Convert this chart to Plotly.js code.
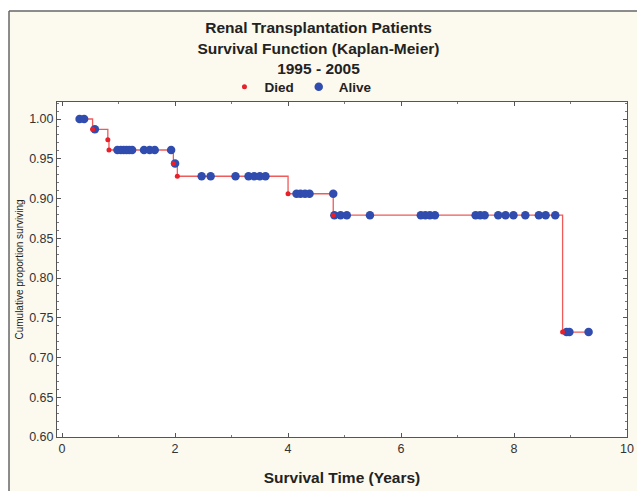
<!DOCTYPE html>
<html>
<head>
<meta charset="utf-8">
<script src="https://cdn.plot.ly/plotly-3.0.1.min.js"></script>
<style>html,body{margin:0;padding:0;background:#fff;}#chart{width:637px;height:491px;}</style>
</head>
<body>
<div id="chart"></div>
<script>
// Kaplan-Meier step curve (death times and survival levels)
var curveTimes = [0.31, 0.54, 0.81, 0.83, 1.97, 2.04, 4.00, 4.80, 8.86, 9.32];
var curveSurv  = [1.000, 0.987, 0.974, 0.961, 0.944, 0.928, 0.906, 0.879, 0.732, 0.732];

// Died (complete) observations
var diedTimes = [0.54, 0.81, 0.83, 1.97, 2.04, 4.00, 4.80, 8.86];
var diedSurv  = [0.987, 0.974, 0.961, 0.944, 0.928, 0.906, 0.879, 0.732];

// Alive (censored) observations
var aliveTimes = [0.31, 0.39, 0.58,
  0.98, 1.04, 1.09, 1.14, 1.19, 1.24, 1.45, 1.55, 1.64, 1.93,
  2.00,
  2.47, 2.63, 3.07, 3.30, 3.40, 3.50, 3.60,
  4.15, 4.22, 4.30, 4.38, 4.80,
  4.82, 4.93, 5.04, 5.45, 6.35, 6.43, 6.51, 6.60, 7.32, 7.40, 7.48, 7.72, 7.85, 7.99, 8.20, 8.44, 8.56, 8.73,
  8.93, 8.98, 9.32];
var aliveSurv = [1.000, 1.000, 0.987,
  0.961, 0.961, 0.961, 0.961, 0.961, 0.961, 0.961, 0.961, 0.961, 0.961,
  0.944,
  0.928, 0.928, 0.928, 0.928, 0.928, 0.928, 0.928,
  0.906, 0.906, 0.906, 0.906, 0.906,
  0.879, 0.879, 0.879, 0.879, 0.879, 0.879, 0.879, 0.879, 0.879, 0.879, 0.879, 0.879, 0.879, 0.879, 0.879, 0.879, 0.879, 0.879,
  0.732, 0.732, 0.732];

var yTickVals = [0.60, 0.65, 0.70, 0.75, 0.80, 0.85, 0.90, 0.95, 1.00];
var xTickVals = [0, 2, 4, 6, 8, 10];

var FONT = '"Liberation Sans", Arial, sans-serif';

var traces = [
  {x: curveTimes, y: curveSurv, type: 'scatter', mode: 'lines', line: {shape: 'hv', color: '#ef5a5a', width: 1.3}, showlegend: false, hoverinfo: 'skip'},
  {x: aliveTimes, y: aliveSurv, type: 'scatter', mode: 'markers', name: 'Alive', legendrank: 2, marker: {color: '#2f4cae', size: 8.5}},
  {x: diedTimes, y: diedSurv, type: 'scatter', mode: 'markers', name: 'Died', legendrank: 1, marker: {color: '#e8202a', size: 5}}
];

var layout = {
  width: 637, height: 491,
  margin: {l: 57, r: 10, t: 102, b: 54},
  paper_bgcolor: '#fcf9ee',
  plot_bgcolor: '#ffffff',
  font: {family: FONT, color: '#222', size: 12},
  title: {
    text: '<b>Renal Transplantation Patients<br>Survival Function (Kaplan-Meier)<br>1995 - 2005</b>',
    font: {family: FONT, size: 15.5, color: '#222'},
    x: 0.5, xref: 'container', xanchor: 'center',
    y: 0.932, yref: 'container', yanchor: 'top'
  },
  showlegend: true,
  legend: {
    orientation: 'h', x: 0.428, xanchor: 'center', y: 1.045, yanchor: 'middle',
    bgcolor: 'rgba(0,0,0,0)', font: {family: FONT, size: 13.5, color: '#222', weight: 'bold'},
    itemwidth: 30, traceorder: 'normal'
  },
  xaxis: {
    range: [-0.09, 10], tickvals: xTickVals, ticktext: xTickVals.map(String),
    ticks: 'inside', ticklen: 4, tickcolor: '#555', mirror: 'ticks',
    showline: true, linecolor: '#555', linewidth: 1, showgrid: false, zeroline: false,
    minor: {dtick: 1, tick0: 0, ticks: 'inside', ticklen: 2, tickcolor: '#777', showgrid: false},
    tickfont: {size: 12.5, color: '#333'},
    title: {text: '<b>Survival Time (Years)</b>', font: {family: FONT, size: 15.5, color: '#222'}, standoff: 17}
  },
  yaxis: {
    range: [0.6, 1.0214], tickvals: yTickVals, ticktext: yTickVals.map(function(v){return v.toFixed(2);}),
    ticks: 'inside', ticklen: 4, tickcolor: '#555', mirror: 'ticks',
    showline: true, linecolor: '#555', linewidth: 1, showgrid: false, zeroline: false,
    minor: {dtick: 0.01, tick0: 0, ticks: 'inside', ticklen: 2, tickcolor: '#777', showgrid: false},
    tickfont: {size: 12.5, color: '#333'},
    title: {text: 'Cumulative proportion surviving', font: {family: FONT, size: 10, color: '#222'}, standoff: 3}
  },
  shapes: [
    {type: 'rect', xref: 'paper', yref: 'paper', x0: -0.2, x1: 1.1, y0: 1.2716, y1: 1.4, fillcolor: '#ffffff', line: {width: 0}, layer: 'above'},
    {type: 'rect', xref: 'paper', yref: 'paper', x0: -0.2, x1: -0.0842, y0: -0.3, y1: 1.4, fillcolor: '#ffffff', line: {width: 0}, layer: 'above'},
    {type: 'line', xref: 'paper', yref: 'paper', x0: -0.0842, x1: 1.1, y0: 1.2716, y1: 1.2716, line: {color: '#666', width: 1.5}, layer: 'above'},
    {type: 'line', xref: 'paper', yref: 'paper', x0: -0.0842, x1: -0.0842, y0: -0.3, y1: 1.2716, line: {color: '#666', width: 1.5}, layer: 'above'}
  ]
};

Plotly.newPlot('chart', traces, layout, {displayModeBar: false, responsive: false});
</script>
</body>
</html>
